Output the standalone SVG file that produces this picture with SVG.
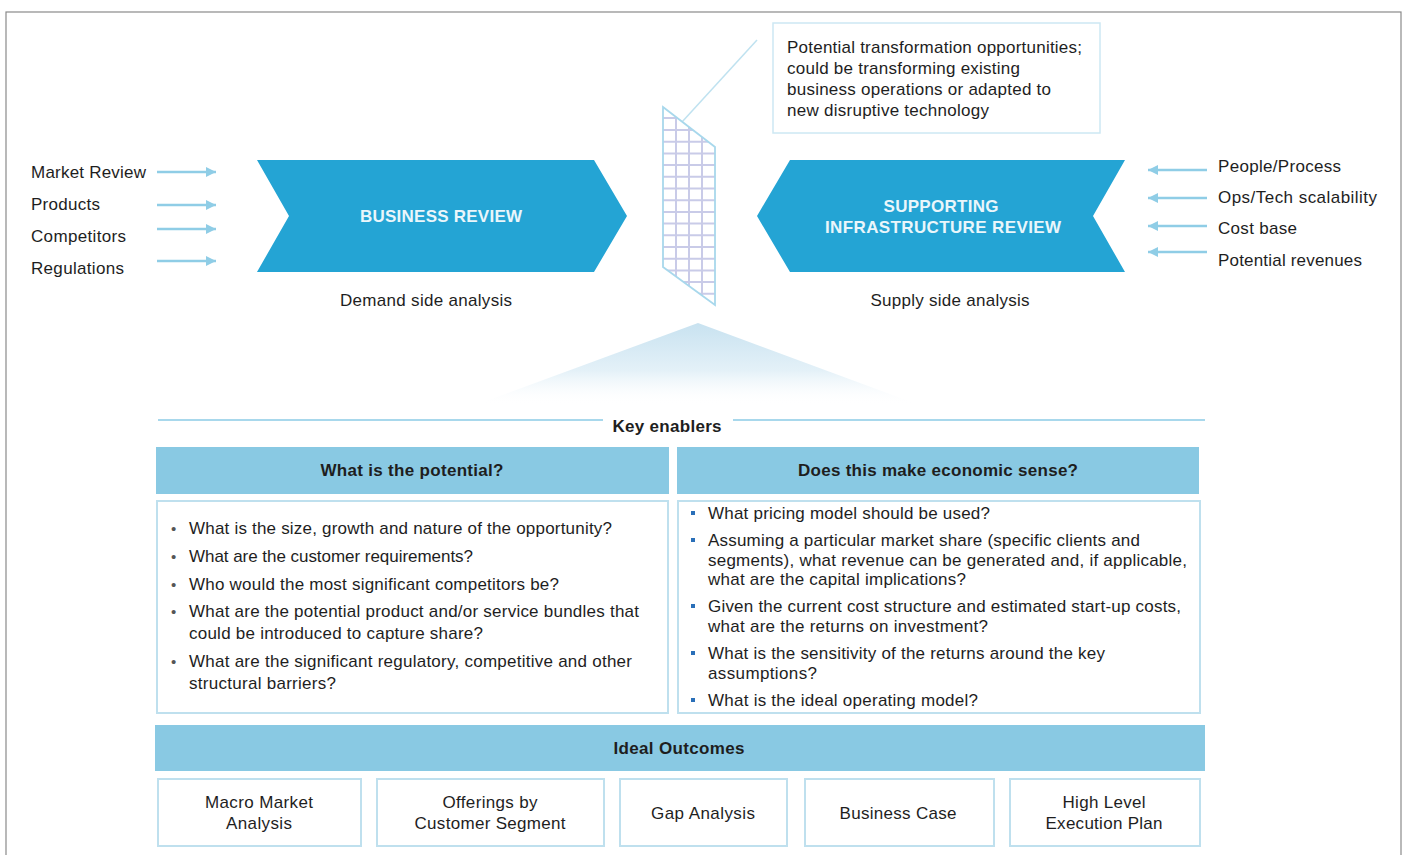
<svg xmlns="http://www.w3.org/2000/svg" width="1405" height="855" viewBox="0 0 1405 855">
  <defs>
    <style>
      text { font-family: "Liberation Sans", Arial, sans-serif; fill: #1e1e1e; }
      .lbl { font-size: 17px; }
      .body { font-size: 17px; }
      .bold { font-size: 17px; font-weight: bold; }
      .chev { fill: #24a4d4; }
      .chevtxt { font-size: 17px; font-weight: bold; fill: #eaf6fb; }
      .arrow { stroke: #8fcde6; stroke-width: 2.5; fill: none; }
      .bar { fill: #89c9e3; }
      .box { fill: #ffffff; stroke: #bfe0ee; stroke-width: 2; }
      .rule { stroke: #a8d8ec; stroke-width: 2; }
      .grid { stroke: #c9cbe8; stroke-width: 2; }
      .dot { fill: #555555; }
      .sq { fill: #2a6fb8; }
    </style>
    <marker id="head" markerUnits="userSpaceOnUse" markerWidth="12" markerHeight="12" refX="10" refY="6" orient="auto">
      <path d="M0,1 L10,6 L0,11 Z" fill="#8fcde6"/>
    </marker>
    <linearGradient id="beam" x1="0" y1="0" x2="0" y2="1">
      <stop offset="0" stop-color="#c8e2f0"/>
      <stop offset="0.6" stop-color="#e4f1f8"/>
      <stop offset="1" stop-color="#ffffff" stop-opacity="0.2"/>
    </linearGradient>
    <clipPath id="gridclip">
      <polygon points="663,107 715,147 715,305 663,267"/>
    </clipPath>
  </defs>

  <!-- outer frame -->
  <rect x="6" y="12" width="1395" height="860" fill="#ffffff" stroke="#8a8a8a" stroke-width="1.2"/>

  <!-- connectors -->
  <g id="connectors">
    <line class="arrow" x1="157" y1="172" x2="216" y2="172" marker-end="url(#head)"/>
    <line class="arrow" x1="157" y1="205" x2="216" y2="205" marker-end="url(#head)"/>
    <line class="arrow" x1="157" y1="229" x2="216" y2="229" marker-end="url(#head)"/>
    <line class="arrow" x1="157" y1="261" x2="216" y2="261" marker-end="url(#head)"/>
    <line class="arrow" x1="1207" y1="170" x2="1148" y2="170" marker-end="url(#head)"/>
    <line class="arrow" x1="1207" y1="198" x2="1148" y2="198" marker-end="url(#head)"/>
    <line class="arrow" x1="1207" y1="226" x2="1148" y2="226" marker-end="url(#head)"/>
    <line class="arrow" x1="1207" y1="252" x2="1148" y2="252" marker-end="url(#head)"/>
    <line x1="757" y1="40" x2="671" y2="134" stroke="#bfe2f0" stroke-width="1.5"/>
  </g>

  <!-- demand side inputs -->
  <g id="demand-inputs">
    <text class="lbl" x="31" y="178" textLength="115">Market Review</text>
    <text class="lbl" x="31" y="210" textLength="69">Products</text>
    <text class="lbl" x="31" y="242" textLength="95">Competitors</text>
    <text class="lbl" x="31" y="274" textLength="93">Regulations</text>
  </g>

  <!-- supply side inputs -->
  <g id="supply-inputs">
    <text class="lbl" x="1218" y="172" textLength="123">People/Process</text>
    <text class="lbl" x="1218" y="203" textLength="159">Ops/Tech scalability</text>
    <text class="lbl" x="1218" y="234" textLength="79">Cost base</text>
    <text class="lbl" x="1218" y="266" textLength="144">Potential revenues</text>
  </g>

  <!-- business review chevron -->
  <g id="business-review">
    <polygon class="chev" points="257,160 594,160 627,216 594,272 257,272 289,216"/>
    <text class="chevtxt" x="441" y="222" text-anchor="middle" textLength="162">BUSINESS REVIEW</text>
    <text class="lbl" x="426" y="306" text-anchor="middle" textLength="172">Demand side analysis</text>
  </g>

  <!-- supporting infrastructure chevron -->
  <g id="infrastructure-review">
    <polygon class="chev" points="790,160 1125,160 1093,216 1125,272 790,272 757,216"/>
    <text class="chevtxt" x="941" y="212" text-anchor="middle" textLength="115">SUPPORTING</text>
    <text class="chevtxt" x="943" y="233" text-anchor="middle" textLength="236">INFRASTRUCTURE REVIEW</text>
    <text class="lbl" x="950" y="306" text-anchor="middle" textLength="159">Supply side analysis</text>
  </g>

  <!-- transformation lens -->
  <g id="lens">
    <g clip-path="url(#gridclip)">
      <rect x="663" y="107" width="52" height="198" fill="#ffffff"/>
      <line class="grid" x1="676" y1="100" x2="676" y2="310"/>
      <line class="grid" x1="689" y1="100" x2="689" y2="310"/>
      <line class="grid" x1="702" y1="100" x2="702" y2="310"/>
      <line class="grid" x1="660" y1="118" x2="720" y2="118"/>
      <line class="grid" x1="660" y1="130" x2="720" y2="130"/>
      <line class="grid" x1="660" y1="141.7" x2="720" y2="141.7"/>
      <line class="grid" x1="660" y1="153.4" x2="720" y2="153.4"/>
      <line class="grid" x1="660" y1="165.1" x2="720" y2="165.1"/>
      <line class="grid" x1="660" y1="176.8" x2="720" y2="176.8"/>
      <line class="grid" x1="660" y1="188.5" x2="720" y2="188.5"/>
      <line class="grid" x1="660" y1="200.2" x2="720" y2="200.2"/>
      <line class="grid" x1="660" y1="211.9" x2="720" y2="211.9"/>
      <line class="grid" x1="660" y1="223.6" x2="720" y2="223.6"/>
      <line class="grid" x1="660" y1="235.3" x2="720" y2="235.3"/>
      <line class="grid" x1="660" y1="247" x2="720" y2="247"/>
      <line class="grid" x1="660" y1="258.7" x2="720" y2="258.7"/>
      <line class="grid" x1="660" y1="270.4" x2="720" y2="270.4"/>
      <line class="grid" x1="660" y1="282.1" x2="720" y2="282.1"/>
      <line class="grid" x1="660" y1="293.8" x2="720" y2="293.8"/>
    </g>
    <polygon points="663,107 715,147 715,305 663,267" fill="none" stroke="#a8d8ec" stroke-width="1.8"/>
  </g>

  <!-- callout -->
  <g id="callout">
    <rect x="773" y="23" width="327" height="110" fill="#ffffff" stroke="#cde8f3" stroke-width="1.5"/>
    <text class="body" x="787" y="53" textLength="295">Potential transformation opportunities;</text>
    <text class="body" x="787" y="74" textLength="233">could be transforming existing</text>
    <text class="body" x="787" y="95" textLength="264">business operations or adapted to</text>
    <text class="body" x="787" y="116" textLength="202">new disruptive technology</text>
  </g>

  <!-- light beam -->
  <polygon id="beam-shape" points="698,323 914,403 481,403" fill="url(#beam)"/>

  <!-- key enablers -->
  <g id="key-enablers">
    <line class="rule" x1="158" y1="420" x2="603" y2="420"/>
    <line class="rule" x1="733" y1="420" x2="1205" y2="420"/>
    <text class="bold" x="667" y="432" text-anchor="middle" textLength="109">Key enablers</text>
  </g>

  <!-- potential -->
  <g id="potential">
    <rect class="bar" x="156" y="447" width="513" height="47"/>
    <text class="bold" x="412" y="476" text-anchor="middle" textLength="183">What is the potential?</text>
    <rect class="box" x="157" y="501" width="511" height="212"/>
    <text class="dot" x="171" y="534" font-size="15" style="font-family:'Liberation Sans',Arial,sans-serif">•</text>
    <text class="body" x="189" y="534" textLength="423">What is the size, growth and nature of the opportunity?</text>
    <text class="dot" x="171" y="562" font-size="15" style="font-family:'Liberation Sans',Arial,sans-serif">•</text>
    <text class="body" x="189" y="562" textLength="284">What are the customer requirements?</text>
    <text class="dot" x="171" y="590" font-size="15" style="font-family:'Liberation Sans',Arial,sans-serif">•</text>
    <text class="body" x="189" y="590" textLength="370">Who would the most significant competitors be?</text>
    <text class="dot" x="171" y="617" font-size="15" style="font-family:'Liberation Sans',Arial,sans-serif">•</text>
    <text class="body" x="189" y="617" textLength="450">What are the potential product and/or service bundles that</text>
    <text class="body" x="189" y="639" textLength="294">could be introduced to capture share?</text>
    <text class="dot" x="171" y="667" font-size="15" style="font-family:'Liberation Sans',Arial,sans-serif">•</text>
    <text class="body" x="189" y="667" textLength="443">What are the significant regulatory, competitive and other</text>
    <text class="body" x="189" y="689" textLength="147">structural barriers?</text>
  </g>

  <!-- economic sense -->
  <g id="economic-sense">
    <rect class="bar" x="677" y="447" width="522" height="47"/>
    <text class="bold" x="938" y="476" text-anchor="middle" textLength="280">Does this make economic sense?</text>
    <rect class="box" x="678" y="501" width="522" height="212"/>
    <rect class="sq" x="691" y="511" width="4" height="4"/>
    <text class="body" x="708" y="519" textLength="282">What pricing model should be used?</text>
    <rect class="sq" x="691" y="538" width="4" height="4"/>
    <text class="body" x="708" y="546" textLength="432">Assuming a particular market share (specific clients and</text>
    <text class="body" x="708" y="566" textLength="479">segments), what revenue can be generated and, if applicable,</text>
    <text class="body" x="708" y="585" textLength="258">what are the capital implications?</text>
    <rect class="sq" x="691" y="604" width="4" height="4"/>
    <text class="body" x="708" y="612" textLength="473">Given the current cost structure and estimated start-up costs,</text>
    <text class="body" x="708" y="632" textLength="280">what are the returns on investment?</text>
    <rect class="sq" x="691" y="651" width="4" height="4"/>
    <text class="body" x="708" y="659" textLength="397">What is the sensitivity of the returns around the key</text>
    <text class="body" x="708" y="679" textLength="109">assumptions?</text>
    <rect class="sq" x="691" y="698" width="4" height="4"/>
    <text class="body" x="708" y="706" textLength="270">What is the ideal operating model?</text>
  </g>

  <!-- ideal outcomes -->
  <g id="ideal-outcomes">
    <rect class="bar" x="155" y="725" width="1050" height="46"/>
    <text class="bold" x="679" y="754" text-anchor="middle" textLength="131">Ideal Outcomes</text>
  </g>

  <g id="outcome-macro">
    <rect class="box" x="158" y="779" width="203" height="67"/>
    <text class="body" x="259" y="808" text-anchor="middle" textLength="108">Macro Market</text>
    <text class="body" x="259" y="829" text-anchor="middle" textLength="66">Analysis</text>
  </g>
  <g id="outcome-offerings">
    <rect class="box" x="377" y="779" width="227" height="67"/>
    <text class="body" x="490" y="808" text-anchor="middle" textLength="95">Offerings by</text>
    <text class="body" x="490" y="829" text-anchor="middle" textLength="151">Customer Segment</text>
  </g>
  <g id="outcome-gap">
    <rect class="box" x="620" y="779" width="167" height="67"/>
    <text class="body" x="703" y="819" text-anchor="middle" textLength="104">Gap Analysis</text>
  </g>
  <g id="outcome-case">
    <rect class="box" x="805" y="779" width="189" height="67"/>
    <text class="body" x="898" y="819" text-anchor="middle" textLength="117">Business Case</text>
  </g>
  <g id="outcome-plan">
    <rect class="box" x="1010" y="779" width="190" height="67"/>
    <text class="body" x="1104" y="808" text-anchor="middle" textLength="83">High Level</text>
    <text class="body" x="1104" y="829" text-anchor="middle" textLength="117">Execution Plan</text>
  </g>
</svg>
